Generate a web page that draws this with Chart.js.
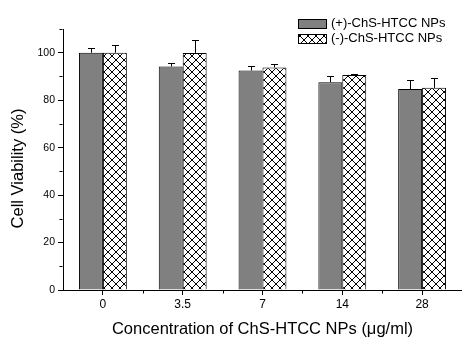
<!DOCTYPE html>
<html>
<head>
<meta charset="utf-8">
<script src="https://cdn.jsdelivr.net/npm/chart.js@4/dist/chart.umd.min.js"></script>
<style>
html,body{margin:0;padding:0;background:#fff;}
#wrap{width:462px;height:339px;position:relative;}
</style>
</head>
<body>
<div id="wrap"><canvas id="c" width="462" height="339"></canvas></div>
<script>
const categories = ['0', '3.5', '7', '14', '28'];
const seriesNames = ['(+)-ChS-HTCC NPs', '(-)-ChS-HTCC NPs'];
const plusValues = [100.0, 94.2, 92.5, 87.6, 84.7];
const plusErrors = [2.0, 1.4, 1.7, 2.6, 3.8];
const minusValues = [100.0, 99.9, 93.8, 90.6, 85.2];
const minusErrors = [3.2, 5.6, 1.4, 0.5, 4.0];
const yTicks = [0, 20, 40, 60, 80, 100];
const xTitle = 'Concentration of ChS-HTCC NPs (\u03bcg/ml)';
const yTitle = 'Cell Viability (%)';

const FONT = "Arial, 'Liberation Sans', sans-serif";

function makeHatch() {
  const p = document.createElement('canvas');
  p.width = 8; p.height = 8;
  const g = p.getContext('2d');
  g.fillStyle = '#fff';
  g.fillRect(0, 0, 8, 8);
  g.strokeStyle = '#000';
  g.lineWidth = 1;
  g.beginPath();
  g.moveTo(-1, -1); g.lineTo(9, 9);
  g.moveTo(9, -1); g.lineTo(-1, 9);
  g.stroke();
  return g.createPattern(p, 'repeat');
}
const hatch = makeHatch();

const errorBarsPlugin = {
  id: 'errorBars',
  afterDatasetsDraw(chart) {
    const ctx = chart.ctx;
    const y = chart.scales.y;
    ctx.save();
    ctx.strokeStyle = '#000';
    ctx.lineWidth = 1;
    chart.data.datasets.forEach((ds, di) => {
      const meta = chart.getDatasetMeta(di);
      meta.data.forEach((bar, i) => {
        const v = ds.data[i], e = ds.errors[i];
        const x = Math.round(bar.x) + 0.5;
        const y0 = y.getPixelForValue(v);
        const y1 = Math.round(y.getPixelForValue(v + e)) + 0.5;
        ctx.beginPath();
        ctx.moveTo(x, y0);
        ctx.lineTo(x, y1);
        ctx.moveTo(x - 3.5, y1);
        ctx.lineTo(x + 3.5, y1);
        ctx.stroke();
      });
    });
    ctx.restore();
  }
};

const minorTicksPlugin = {
  id: 'minorTicks',
  afterDraw(chart) {
    const ctx = chart.ctx;
    const xs = chart.scales.x, ys = chart.scales.y;
    const left = Math.round(ys.right) - 0.5;
    const bottom = Math.round(xs.top) + 0.5;
    ctx.save();
    ctx.strokeStyle = '#000';
    ctx.lineWidth = 1;
    ctx.beginPath();
    for (let v = 10; v <= 110; v += 20) {
      const py = Math.round(ys.getPixelForValue(v)) + 0.5;
      ctx.moveTo(left, py);
      ctx.lineTo(left - 3, py);
    }
    for (let i = 0; i < categories.length - 1; i++) {
      const px = Math.round((xs.getPixelForValue(i) + xs.getPixelForValue(i + 1)) / 2) + 0.5;
      ctx.moveTo(px, bottom);
      ctx.lineTo(px, bottom + 3);
    }
    ctx.stroke();
    // y axis title
    ctx.font = '16.5px ' + FONT;
    ctx.fillStyle = '#000';
    ctx.textAlign = 'center';
    ctx.textBaseline = 'middle';
    ctx.translate(18.5, 168.5);
    ctx.rotate(-Math.PI / 2);
    ctx.fillText(yTitle, 0, 0);
    ctx.restore();
  }
};

const legendPlugin = {
  id: 'customLegend',
  afterDraw(chart) {
    const ctx = chart.ctx;
    ctx.save();
    ctx.font = '13px ' + FONT;
    ctx.textBaseline = 'middle';
    ctx.fillStyle = '#000';
    const rows = [23, 38.5];
    chart.data.datasets.forEach((ds, i) => {
      const cy = rows[i];
      const bx = 298, bw = 28, bh = 9;
      const by = Math.round(cy - bh / 2);
      ctx.fillStyle = ds.backgroundColor;
      ctx.fillRect(bx, by, bw, bh);
      ctx.strokeStyle = '#000';
      ctx.lineWidth = 1;
      ctx.strokeRect(bx + 0.5, by + 0.5, bw, bh);
      ctx.fillStyle = '#000';
      ctx.fillText(ds.label, 331, cy);
    });
    ctx.restore();
  }
};

new Chart(document.getElementById('c'), {
  type: 'bar',
  data: {
    labels: categories,
    datasets: [
      { label: seriesNames[0], data: plusValues, errors: plusErrors,
        backgroundColor: '#808080', borderColor: '#000', borderWidth: 1,
        categoryPercentage: 0.6, barPercentage: 1.0 },
      { label: seriesNames[1], data: minusValues, errors: minusErrors,
        backgroundColor: hatch, borderColor: '#000', borderWidth: 1,
        categoryPercentage: 0.6, barPercentage: 1.0 }
    ]
  },
  options: {
    responsive: false,
    animation: false,
    devicePixelRatio: 1,
    layout: { padding: { top: 29, left: 0, right: 0, bottom: 0 } },
    plugins: { legend: { display: false }, tooltip: { enabled: false } },
    scales: {
      x: {
        offset: true,
        afterFit(s) { s.height = 49; },
        grid: { offset: false, drawOnChartArea: false, tickLength: 5, color: '#000', tickColor: '#000' },
        border: { display: true, color: '#000', width: 1 },
        ticks: { color: '#000', font: { family: FONT, size: 12 }, padding: 2, maxRotation: 0 },
        title: { display: true, text: xTitle, color: '#000', font: { family: FONT, size: 16.5 }, padding: { top: 0, bottom: 0 } }
      },
      y: {
        min: 0, max: 110,
        afterFit(s) { s.width = 63; },
        afterBuildTicks(s) { s.ticks = yTicks.map(v => ({ value: v })); },
        grid: { drawOnChartArea: false, tickLength: 5, color: '#000', tickColor: '#000' },
        border: { display: true, color: '#000', width: 1 },
        ticks: { color: '#000', font: { family: FONT, size: 10.5 }, padding: 3 },
        title: { display: false, text: yTitle }
      }
    }
  },
  plugins: [errorBarsPlugin, minorTicksPlugin, legendPlugin]
});
</script>
</body>
</html>
